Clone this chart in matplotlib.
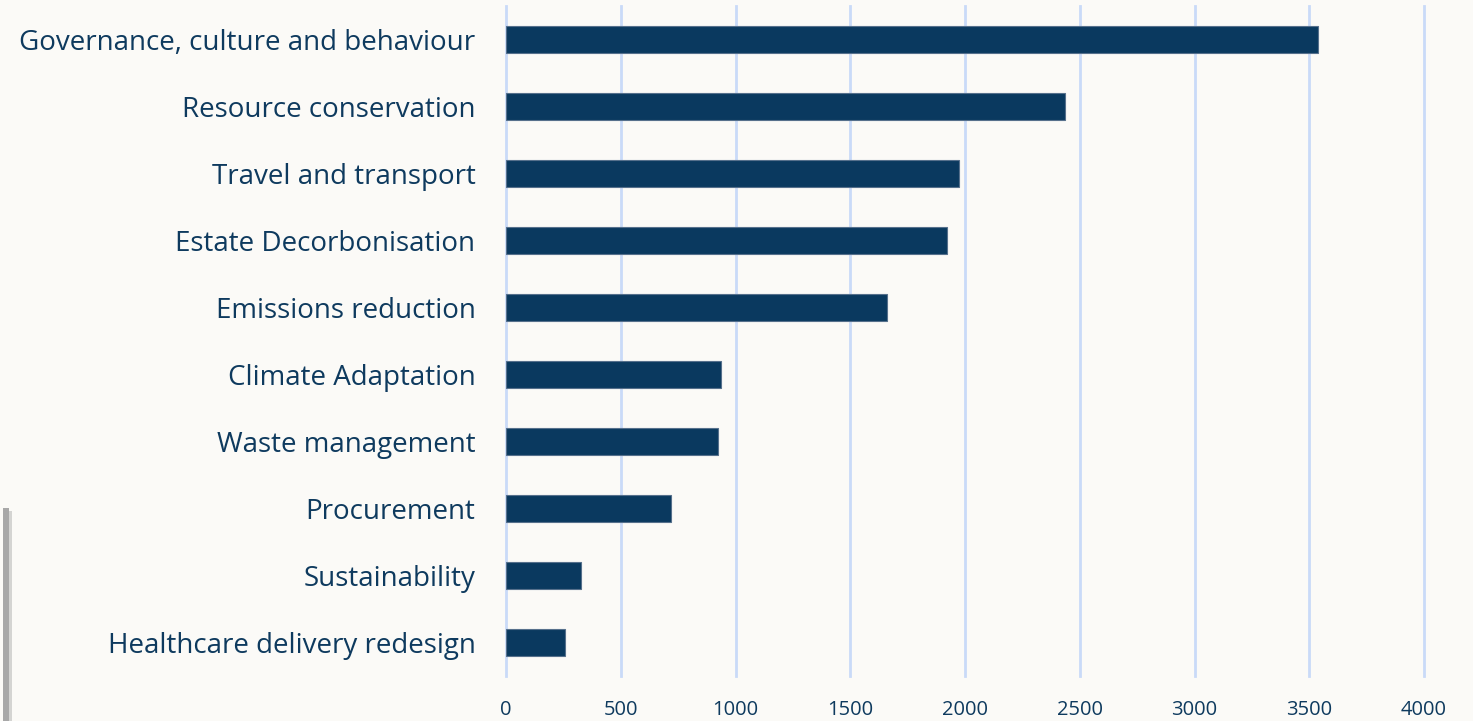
import matplotlib
matplotlib.use('Agg')
import matplotlib.pyplot as plt
from matplotlib.patches import Rectangle

# data, top to bottom as in the chart
categories = ["Governance, culture and behaviour", "Resource conservation",
              "Travel and transport", "Estate Decorbonisation",
              "Emissions reduction", "Climate Adaptation", "Waste management",
              "Procurement", "Sustainability", "Healthcare delivery redesign"]
values = [3540, 2437, 1972, 1920, 1658, 938, 925, 720, 328, 255]
xticks = [0, 500, 1000, 1500, 2000, 2500, 3000, 3500, 4000]

bg = '#FBFAF7'
navy = '#0A395F'
textcol = '#0E3A5E'
gridcol = '#C9DAF8'

plt.rcParams['font.family'] = ['Open Sans', 'DejaVu Sans']

fig = plt.figure(figsize=(14.73, 7.21), dpi=100, facecolor=bg)
ax = fig.add_axes([506/1473, 45/721, 918/1473, 670/721], facecolor=bg)

ypos = list(range(len(categories)))[::-1]
ax.barh(ypos, values, height=0.39, color=navy, edgecolor='#56708C',
        linewidth=0.8, zorder=3)

ax.set_xlim(0, 4000)
ax.set_ylim(-0.5, len(categories) - 0.5)
ax.set_xticks(xticks)
ax.set_xticklabels([str(t) for t in xticks])
ax.set_yticks(ypos)
ax.set_yticklabels(categories)

ax.grid(axis='x', color=gridcol, linewidth=2, zorder=0)
for gl in ax.get_xgridlines():
    gl.set_clip_on(False)
for s in ax.spines.values():
    s.set_visible(False)
ax.tick_params(axis='y', length=0, pad=22, labelsize=20, labelcolor=textcol)
ax.tick_params(axis='x', length=0, pad=17, labelsize=14.5, labelcolor=textcol)

# grey shadow strip on the lower left edge
fig.patches.append(Rectangle((3/1473, 0), 6/1473, 213/721, transform=fig.transFigure,
                             facecolor='#A8A8A8', edgecolor='none'))
fig.patches.append(Rectangle((9/1473, 0), 3/1473, 210/721, transform=fig.transFigure,
                             facecolor='#D4D4D2', edgecolor='none'))

fig.savefig("out.png", dpi=100, facecolor=bg)
